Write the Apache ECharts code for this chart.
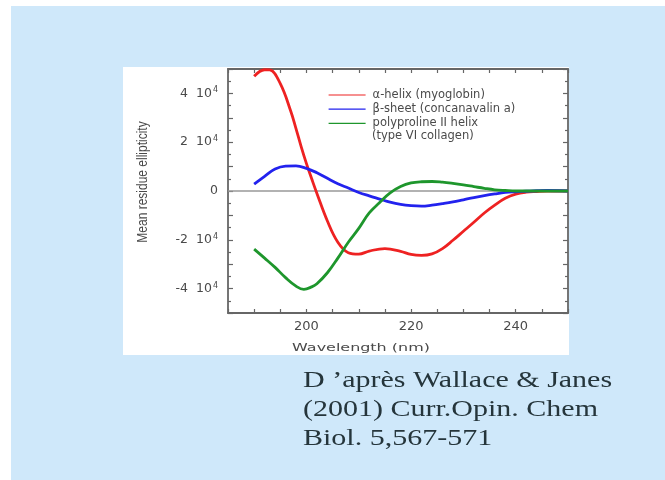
<!DOCTYPE html>
<html>
<head>
<meta charset="utf-8">
<script src="https://cdn.jsdelivr.net/npm/echarts@6/dist/echarts.min.js"></script>
<style>
html,body{margin:0;padding:0;background:#ffffff;}
#bg{position:absolute;left:11px;top:6px;width:654px;height:474px;background:#cfe8fa;}
#panel{position:absolute;left:123px;top:67px;width:446px;height:288px;background:#ffffff;}
#chart{position:absolute;left:0;top:0;width:665px;height:480px;}
</style>
</head>
<body>
<div id="bg"></div>
<div id="panel"></div>
<div id="chart"></div>
<script>
// Wavelength (nm) and mean residue ellipticity
const helixWl   = [190, 192, 193, 195, 197, 198, 199, 200, 201, 202, 204, 206, 208, 210, 212, 215, 218, 220, 222, 224, 226, 228, 230, 232, 234, 236, 238, 240, 242, 244, 246, 250];
const helixVal  = [47000, 49700, 49600, 44000, 32700, 25600, 18100, 11200, 5000, -1000, -12300, -21000, -25300, -25900, -24600, -23600, -24700, -26000, -26400, -25800, -23600, -20200, -16500, -12800, -9000, -5800, -3000, -1300, -500, -200, 0, 0];
const sheetWl   = [190, 192, 194, 196, 198, 200, 202, 204, 206, 208, 210, 212, 214, 216, 218, 220, 222, 224, 226, 228, 230, 232, 234, 236, 238, 240, 242, 244, 246, 250];
const sheetVal  = [2800, 6000, 9000, 10200, 10300, 9300, 7500, 5200, 3000, 1200, -600, -2000, -3300, -4600, -5500, -6000, -6200, -5800, -5200, -4500, -3600, -2700, -1900, -1200, -600, -300, -100, 100, 200, 0];
const ppiiWl    = [190, 192, 194, 196, 198, 199.5, 201, 202, 204, 206, 208, 210, 212, 214, 216, 218, 220, 222, 224, 226, 228, 230, 232, 234, 236, 238, 240, 250];
const ppiiVal   = [-23800, -27500, -31300, -35500, -39000, -40300, -39300, -38000, -33500, -27500, -21000, -15300, -9000, -4700, -800, 1800, 3300, 3800, 3900, 3600, 3100, 2500, 1800, 1100, 500, 200, 0, 0];
const seriesNames = ['\u03b1-helix (myoglobin)', '\u03b2-sheet (concanavalin a)', 'polyproline II helix'];
const seriesNote  = '(type VI collagen)';
const yLabelValues = [-40000, -20000, 0, 20000, 40000];
const xLabelValues = [200, 220, 240];
const colors = ['#ee2222', '#2222ee', '#1e962c'];

const zip = (a, b) => a.map((v, i) => [v, b[i]]);

const chart = echarts.init(document.getElementById('chart'), null, {renderer: 'canvas'});
const axisCol = '#666666';
const labelFont = '"DejaVu Sans", "Liberation Sans", Arial, sans-serif';
const labelCol = '#4a4a4a';

function yFmt(v) {
  if (yLabelValues.indexOf(v) < 0) return '';
  if (v === 0) return '{a|0}';
  return '{a|' + (v / 10000) + '  10}{s|4}';
}
function xFmt(v) {
  return xLabelValues.indexOf(v) >= 0 ? String(v) : '';
}

const commonX = {
  type: 'value', min: 185, max: 250, interval: 5,
  axisLine: {show: true, onZero: false, lineStyle: {color: axisCol, width: 1.8}},
  axisTick: {show: true, inside: true, length: 4, lineStyle: {color: axisCol, width: 1.2}},
  splitLine: {show: false}
};
const commonY = {
  type: 'value', min: -50000, max: 50000, interval: 10000,
  axisLine: {show: true, onZero: false, lineStyle: {color: axisCol, width: 1.8}},
  axisTick: {show: true, inside: true, length: 5, lineStyle: {color: axisCol, width: 1.2}},
  minorTick: {show: true, splitNumber: 2, length: 3, lineStyle: {color: axisCol, width: 1.2}},
  splitLine: {show: false}
};

function lineSeries(name, data, color, extra) {
  return Object.assign({
    name: name, type: 'line', data: data, smooth: 0.4, symbol: 'none',
    xAxisIndex: 0, yAxisIndex: 0,
    lineStyle: {color: color, width: 2.8}, itemStyle: {color: color},
    z: 3
  }, extra || {});
}

chart.setOption({
  backgroundColor: 'transparent',
  animation: false,
  grid: {left: 228, right: 97, top: 69, bottom: 167, containLabel: false},
  xAxis: [
    Object.assign({}, commonX, {position: 'bottom',
      axisLabel: {show: true, formatter: xFmt, margin: 7, color: labelCol, fontSize: 13, fontFamily: labelFont}}),
    Object.assign({}, commonX, {position: 'top', axisLabel: {show: false}})
  ],
  yAxis: [
    Object.assign({}, commonY, {position: 'left',
      axisLabel: {show: true, formatter: yFmt, margin: 10,
        rich: {
          a: {fontSize: 12.5, color: labelCol, fontFamily: labelFont, lineHeight: 14},
          s: {fontSize: 8, color: labelCol, fontFamily: labelFont, verticalAlign: 'top', lineHeight: 10, padding: [0, 0, 4, 1]}
        }}}),
    Object.assign({}, commonY, {position: 'right', axisLabel: {show: false}})
  ],
  legend: {
    orient: 'vertical', left: 328, top: 89, padding: 0, itemWidth: 37, itemHeight: 12, itemGap: 2.2,
    data: seriesNames.map((n, i) => ({name: n, lineStyle: {color: colors[i], width: 1.2}})),
    lineStyle: {width: 1.2},
    itemStyle: {opacity: 0},
    textStyle: {fontSize: 11.5, color: labelCol, fontFamily: labelFont, padding: [0, 0, 0, 2]},
    selectedMode: false
  },
  graphic: [
    {type: 'text', left: 372, top: 130, style: {text: seriesNote, font: '11.5px ' + labelFont, fill: labelCol}},
    {type: 'text', x: 143, y: 182, rotation: Math.PI / 2, scaleY: 1.25,
      style: {text: 'Mean residue ellipticity', font: '12px "Liberation Sans", Arial, sans-serif', fill: labelCol, align: 'center', verticalAlign: 'middle'}},
    {type: 'text', x: 361, y: 348, scaleX: 1.45,
      style: {text: 'Wavelength (nm)', font: '11px ' + labelFont, fill: labelCol, align: 'center', verticalAlign: 'middle'}},
    {type: 'text', x: 303, y: 366, scaleX: 1.25,
      style: {text: "D \u2019apr\u00e8s Wallace & Janes\n(2001) Curr.Opin. Chem\nBiol. 5,567-571",
        font: '24px "Liberation Serif", "Times New Roman", serif', fill: '#25353b', lineHeight: 29}}
  ],
  series: [
    lineSeries(seriesNames[0], zip(helixWl, helixVal), colors[0], {
      markLine: {silent: true, symbol: 'none', label: {show: false},
        lineStyle: {color: '#999999', width: 1.5, type: 'solid'}, data: [{yAxis: 0}], z: 1}
    }),
    lineSeries(seriesNames[1], zip(sheetWl, sheetVal), colors[1]),
    lineSeries(seriesNames[2], zip(ppiiWl, ppiiVal), colors[2])
  ]
});
</script>
</body>
</html>
